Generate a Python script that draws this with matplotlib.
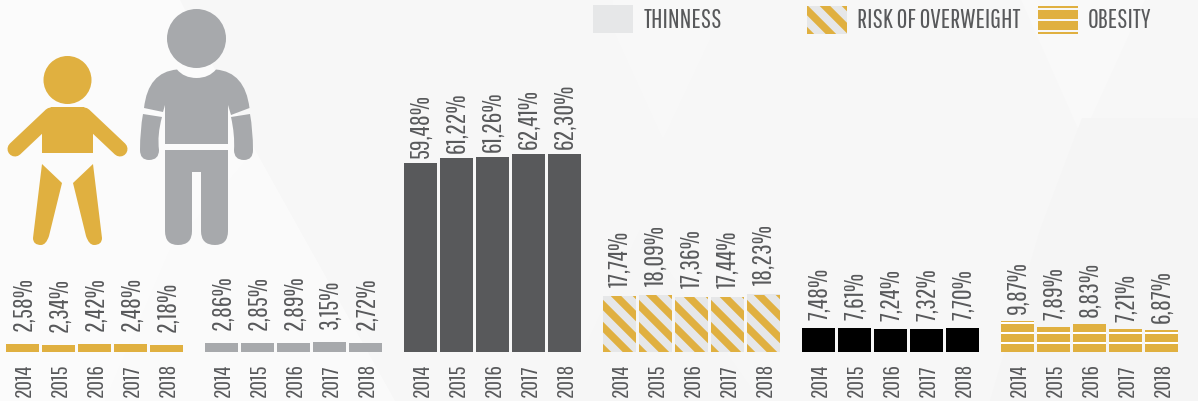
import matplotlib
matplotlib.use("Agg")
import matplotlib.pyplot as plt
import numpy as np
from matplotlib.patches import Circle, PathPatch, Polygon, Rectangle
from matplotlib.path import Path

W, H = 1198, 401
BASE_Y = 352
PX_PER_UNIT = 3.175

GOLD = "#e0b040"
LIGHT = "#e6e7e8"
GREY = "#a7a9ac"
DARK = "#58595b"
TEXT = "#58595b"

years = ["2014", "2015", "2016", "2017", "2018"]
baby_values = [2.58, 2.34, 2.42, 2.48, 2.18]
adult_values = [2.86, 2.85, 2.89, 3.15, 2.72]
thinness_values = [59.48, 61.22, 61.26, 62.41, 62.30]
risk_values = [17.74, 18.09, 17.36, 17.44, 18.23]
black_values = [7.48, 7.61, 7.24, 7.32, 7.70]
obesity_values = [9.87, 7.89, 8.83, 7.21, 6.87]

plt.rcParams["font.family"] = ["Pathway Gothic One", "Bebas Neue", "DejaVu Sans"]

fig = plt.figure(figsize=(W / 100, H / 100), dpi=100, facecolor="#f7f7f7")

# pixel axes for background and icons
bg = fig.add_axes([0, 0, 1, 1])
bg.set_xlim(0, W)
bg.set_ylim(H, 0)
bg.axis("off")

for pts, col in [
    ([(0, 0), (180, 0), (255, 150), (395, 401), (0, 401)], "#fbfbfb"),
    ([(255, 150), (395, 401), (105, 401), (170, 250)], "#fafafa"),
    ([(613, 30), (663, 140), (710, 40), (710, 0), (613, 0)], "#f8f8f8"),
    ([(1021, 0), (1082, 138), (1145, 0)], "#f9f9f9"),
    ([(1082, 118), (1198, 118), (1198, 401), (990, 401), (1040, 230)], "#f5f5f5"),
    ([(560, 401), (640, 230), (760, 401)], "#f6f6f6"),
]:
    bg.add_patch(Polygon(pts, closed=True, fc=col, ec="none"))

# baby icon
bg.add_patch(Circle((67.5, 80), 24, fc=GOLD, ec="none"))
bg.add_patch(Polygon([(42, 153), (93, 153), (93, 122), (84, 107), (51, 107), (42, 122)], fc=GOLD, ec="none"))
for xs, ys in [((51, 15), (115, 149)), ((84, 120), (115, 149))]:
    bg.plot(xs, ys, color=GOLD, lw=10.8, solid_capstyle="round")
C, L, M = Path.CURVE3, Path.LINETO, Path.MOVETO
leg_codes = [M, L, L, C, C, C, C, Path.CLOSEPOLY]
bg.add_patch(PathPatch(Path([(42, 164), (62, 183), (49, 236), (46, 245), (41, 245), (33, 245), (33, 238), (42, 164)],
                            leg_codes), fc=GOLD, ec="none"))
bg.add_patch(PathPatch(Path([(93, 164), (73, 183), (86, 236), (89, 245), (94, 245), (102, 245), (102, 238), (93, 164)],
                            leg_codes), fc=GOLD, ec="none"))

# adult icon
bg.add_patch(Circle((196.5, 38.5), 29.5, fc=GREY, ec="none"))
torso = Path(
    [(177, 69.5), (184, 78), (196.5, 78), (209, 78), (216, 69.5), (245, 72), (249.5, 108),
     (231, 115), (228, 105), (228, 144), (165, 144), (165, 105), (163, 112), (144, 108),
     (148, 72), (177, 69.5), (177, 69.5)],
    [M, C, C, C, C, C, C, L, L, L, L, L, L, L, C, C, Path.CLOSEPOLY],
)
bg.add_patch(PathPatch(torso, fc=GREY, ec="none"))
arm_left = Path(
    [(143, 114), (162, 117), (157, 135), (159, 150), (159, 160), (149, 160), (140, 160), (140, 150),
     (140, 130), (143, 114), (143, 114)],
    [M, L, C, C, C, C, C, C, C, C, Path.CLOSEPOLY],
)
bg.add_patch(PathPatch(arm_left, fc=GREY, ec="none"))
arm_right = Path(
    [(250, 114), (231, 117), (235, 135), (234, 150), (234, 160), (244, 160), (253, 160), (253, 150),
     (253, 130), (250, 114), (250, 114)],
    [M, L, C, C, C, C, C, C, C, C, Path.CLOSEPOLY],
)
bg.add_patch(PathPatch(arm_right, fc=GREY, ec="none"))
legs = Path(
    [(165, 150), (228, 150), (228, 231), (228, 245), (215, 245), (201, 245), (201, 231), (201, 172), (192, 172),
     (192, 231), (192, 245), (178, 245), (165, 245), (165, 231), (165, 150), (165, 150)],
    [M, L, L, C, C, C, C, L, L, L, C, C, C, C, L, Path.CLOSEPOLY],
)
bg.add_patch(PathPatch(legs, fc=GREY, ec="none"))

# bar axes: y in data units, same pixel mapping as bg
ax = fig.add_axes([0, 0, 1, 1])
ax.set_xlim(0, W)
ax.set_ylim(-(H - BASE_Y) / PX_PER_UNIT, BASE_Y / PX_PER_UNIT)
ax.axis("off")
ax.patch.set_alpha(0)


def add_stripes(patch, left, top_px):
    # diagonal gold stripes clipped to the patch
    for off in np.arange(-6, 4) * 22.0:
        x0 = left + off + 6.7
        h = 70
        poly = Polygon([(x0, top_px), (x0 + 10.5, top_px), (x0 + 10.5 + h, top_px + h), (x0 + h, top_px + h)],
                       fc=GOLD, ec="none", transform=bg.transData)
        ax.add_patch(poly)
        poly.set_clip_path(patch)


def add_bands(patch, left, width):
    # white gaps every 10 px up from the baseline
    for k in range(1, 6):
        y = BASE_Y - 10 * k
        gap = Rectangle((left - 1, y), width + 2, 2, fc="white", ec="none", transform=bg.transData)
        ax.add_patch(gap)
        gap.set_clip_path(patch)


groups = [
    (baby_values, 6, GOLD, None, 13),
    (adult_values, 205, GREY, None, 13),
    (thinness_values, 404, DARK, None, 5),
    (risk_values, 603, LIGHT, "stripes", 9),
    (black_values, 802, "#000000", None, 8),
    (obesity_values, 1001, GOLD, "bands", 7),
]

BAR_W = 33
for values, start, color, style, gap in groups:
    lefts = start + 36 * np.arange(len(values))
    bars = ax.bar(lefts, values, width=BAR_W, align="edge", color=color, linewidth=0)
    for x, v, b in zip(lefts, values, bars):
        if style == "stripes":
            add_stripes(b, x, BASE_Y - 57)
        elif style == "bands":
            add_bands(b, x, BAR_W)
        ax.annotate(f"{v:.2f}%".replace(".", ","), (x + BAR_W / 2 + 1, v), xytext=(0, gap * 0.72),
                    textcoords="offset points", rotation=90, ha="center", va="bottom",
                    fontsize=19, color=TEXT)
    for x, y in zip(lefts, years):
        bg.text(x + BAR_W / 2 + 2, 397, y, rotation=90, ha="center", va="bottom", fontsize=17, color=TEXT)

# legend
bg.add_patch(Rectangle((593, 5), 40, 28, fc=LIGHT, ec="none"))
leg_risk = Rectangle((807, 6), 40, 28, fc=LIGHT, ec="none", transform=bg.transData)
ax.add_patch(leg_risk)
add_stripes(leg_risk, 807, 0)
leg_ob = Rectangle((1038, 6), 40, 28, fc=GOLD, ec="none", transform=bg.transData)
ax.add_patch(leg_ob)
for y, h in [(7.5, 2), (19, 1.5), (30, 2)]:
    ax.add_patch(Rectangle((1038, y), 40, h, fc="#f7f7f7", ec="none", transform=bg.transData))

for x, label in [(644, "THINNESS"), (857, "RISK OF OVERWEIGHT"), (1088, "OBESITY")]:
    bg.text(x, 21, label, ha="left", va="center", fontsize=19, color=TEXT)

fig.savefig("out.png", dpi=100, facecolor=fig.get_facecolor())
